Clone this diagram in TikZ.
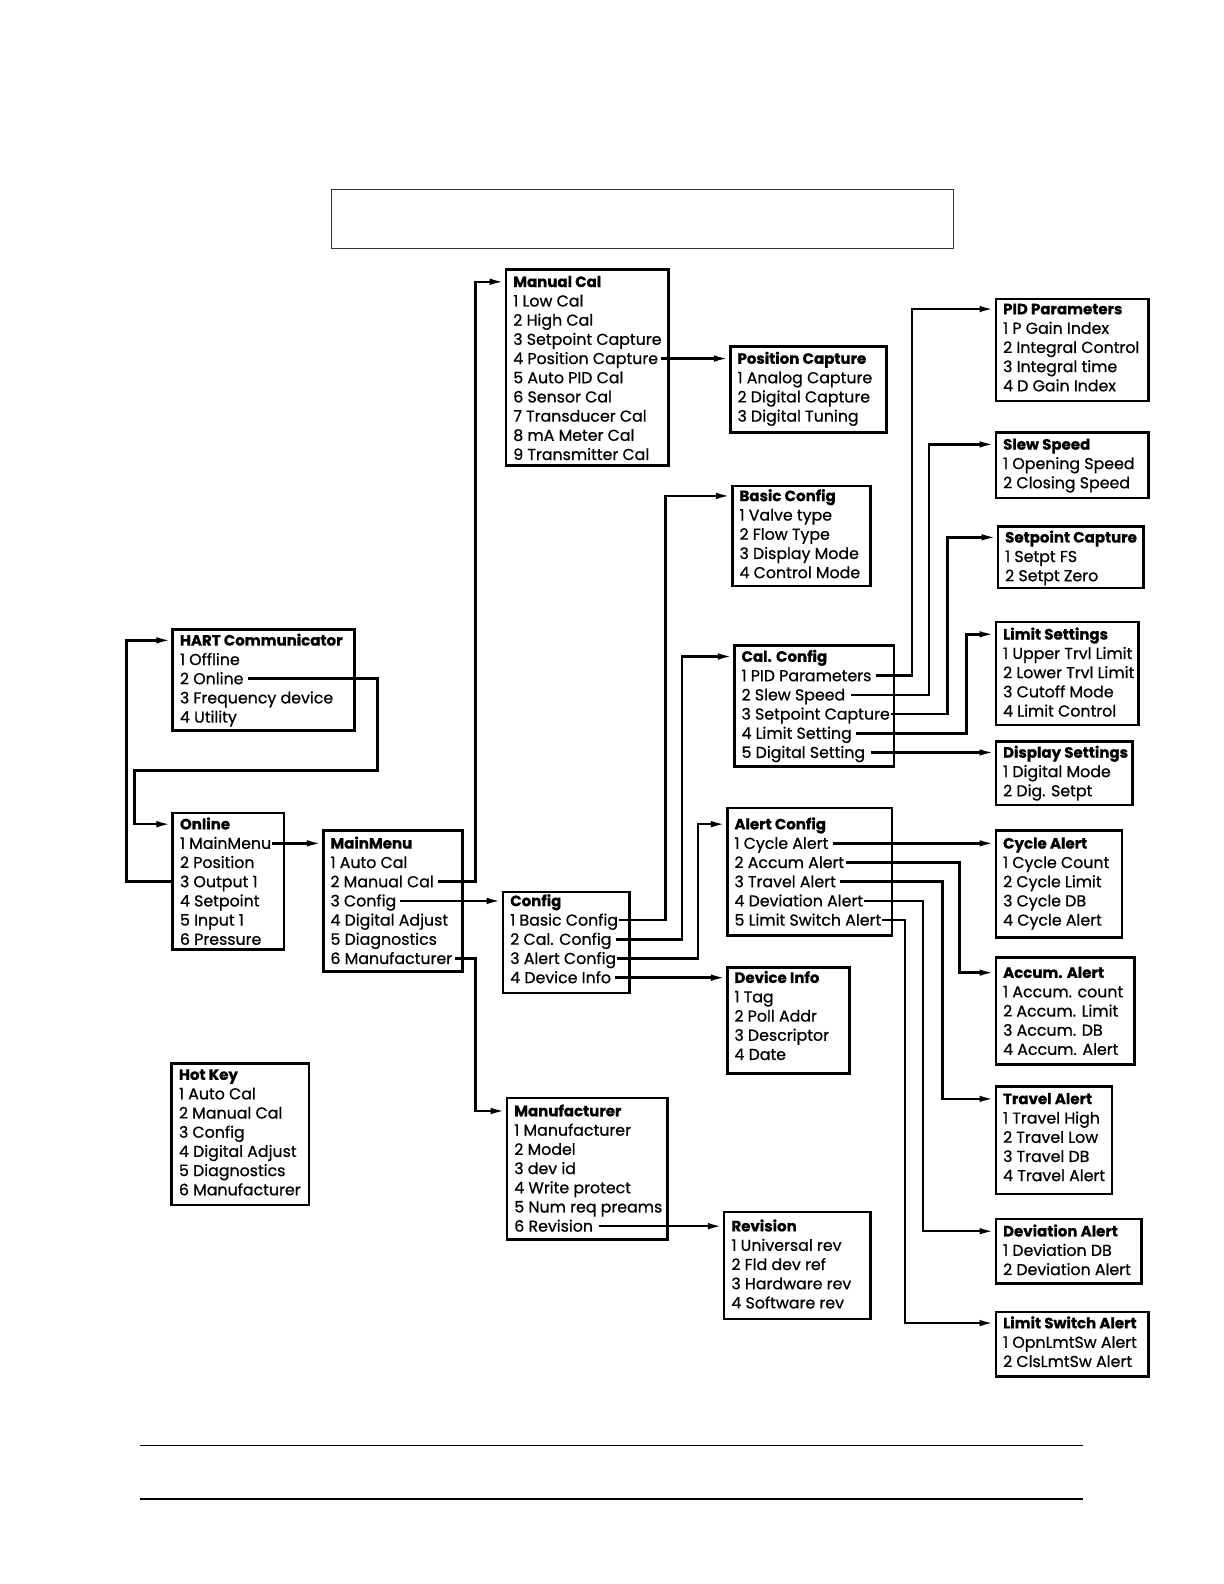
\documentclass[tikz,border=0pt]{standalone}
\usepackage{fontspec}
\setmainfont{Poppins}[BoldFeatures={FakeBold=0.8}]
\newfontfamily\itemfont{Poppins}[FakeBold=0.7]
\usetikzlibrary{arrows.meta,fit}
\tikzset{
  box/.style={draw,line width=2.6pt,inner sep=0pt},
  ttl/.style={anchor=west,inner sep=0pt,text height=10.5pt,text depth=0pt,font=\fontsize{15}{17}\selectfont\bfseries},
  itm/.style={anchor=west,inner sep=0pt,text height=11pt,text depth=0pt,font=\itemfont\fontsize{15.8}{18}\selectfont},
  conn/.style={line width=2.5pt,-{Latex[length=15pt,width=6.5pt]}},
}
\newcommand{\menu}[8]{%
  \node[box,fit={(#2,#3) (#4,#5)}] (#1) {};
  \node[ttl] (#1-t) at (#2+7,#6) {#7};
  \foreach \txt [count=\k] in {#8} {\node[itm] (#1-\k) at (#2+7,#6+19*\k) {\txt};}
}
\begin{document}
\begin{tikzpicture}[x=1.01pt,y=-1.01pt]
\useasboundingbox (0,0) rectangle (1211.88,1568.32);
\draw[line width=0.9pt,black!80] (328,188) rectangle (944,246);
\draw[line width=1.6pt] (139,1431) -- (1072,1431);
\draw[line width=1.6pt] (139,1484) -- (1072,1484);

\menu{hart}{171}{623}{351}{723}{634}{HART Communicator}{1 Offline,2 Online,3 Frequency device,4 Utility}
\menu{online}{171}{805}{281}{940}{816}{Online}{1 MainMenu,2 Position,3 Output 1,4 Setpoint,5 Input 1,6 Pressure}
\menu{main}{320}{822}{458}{962}{835}{MainMenu}{1 Auto Cal,2 Manual Cal,3 Config,4 Digital Adjust,5 Diagnostics,6 Manufacturer}
\menu{manual}{501}{267}{662}{461}{279}{Manual Cal}{1 Low Cal,2 High Cal,3 Setpoint Capture,4 Position Capture,5 Auto PID Cal,6 Sensor Cal,7 Transducer Cal,8 mA Meter Cal,9 Transmitter Cal}
\menu{poscap}{723}{343}{878}{428}{355}{Position Capture}{1 Analog Capture,2 Digital Capture,3 Digital Tuning}
\menu{basic}{725}{481}{862}{580}{491}{Basic Config}{1 Valve type,2 Flow Type,3 Display Mode,4 Control Mode}
\menu{cal}{727}{639}{885}{759}{650}{Cal. Config}{1 PID Parameters,2 Slew Speed,3 Setpoint Capture,4 Limit Setting,5 Digital Setting}
\menu{alert}{720}{800}{883}{926}{816}{Alert Config}{1 Cycle Alert,2 Accum Alert,3 Travel Alert,4 Deviation Alert,5 Limit Switch Alert}
\menu{config}{498}{883}{623}{983}{892}{Config}{1 Basic Config,2 Cal. Config,3 Alert Config,4 Device Info}
\menu{devinfo}{720}{958}{841}{1063}{968}{Device Info}{1 Tag,2 Poll Addr,3 Descriptor,4 Date}
\menu{manuf}{502}{1087}{661}{1227}{1100}{Manufacturer}{1 Manufacturer,2 Model,3 dev id,4 Write protect,5 Num req preams,6 Revision}
\menu{revision}{717}{1200}{862}{1306}{1214}{Revision}{1 Universal rev,2 Fld dev ref,3 Hardware rev,4 Software rev}
\menu{hotkey}{170}{1053}{306}{1193}{1064}{Hot Key}{1 Auto Cal,2 Manual Cal,3 Config,4 Digital Adjust,5 Diagnostics,6 Manufacturer}
\menu{pid}{986}{296}{1137}{397}{306}{PID Parameters}{1 P Gain Index,2 Integral Control,3 Integral time,4 D Gain Index}
\menu{slew}{986}{428}{1137}{493}{440}{Slew Speed}{1 Opening Speed,2 Closing Speed}
\menu{setcap}{988}{521}{1132}{582}{532}{Setpoint Capture}{1 Setpt FS,2 Setpt Zero}
\menu{limit}{986}{616}{1127}{718}{628}{Limit Settings}{1 Upper Trvl Limit,2 Lower Trvl Limit,3 Cutoff Mode,4 Limit Control}
\menu{display}{986}{734}{1121}{797}{745}{Display Settings}{1 Digital Mode,2 Dig. Setpt}
\menu{cycle}{986}{822}{1111}{928}{835}{Cycle Alert}{1 Cycle Count,2 Cycle Limit,3 Cycle DB,4 Cycle Alert}
\menu{accum}{986}{948}{1123}{1054}{963}{Accum. Alert}{1 Accum. count,2 Accum. Limit,3 Accum. DB,4 Accum. Alert}
\menu{travel}{986}{1076}{1101}{1182}{1088}{Travel Alert}{1 Travel High,2 Travel Low,3 Travel DB,4 Travel Alert}
\menu{deviation}{986}{1207}{1130}{1271}{1219}{Deviation Alert}{1 Deviation DB,2 Deviation Alert}
\menu{lsa}{986}{1299}{1137}{1363}{1310}{Limit Switch Alert}{1 OpnLmtSw Alert,2 ClsLmtSw Alert}

% connectors
\draw[conn] ([xshift=4pt]hart-2.east) -| (374,763) -- (133,763) |- (online.west |- online-t.west);
\draw[conn] (online.west |- online-3.west) -- (125,873) |- (hart.west |- hart-t.west);
\draw[conn] ([xshift=1pt]online-1.east) -- (main.west |- main-t.west);
\draw[conn] ([xshift=4pt]main-2.east) -| (471,279) -- (manual.west |- manual-t.west);
\draw[conn] ([xshift=4pt]main-3.east) -- (config.west |- config-t.west);
\draw[conn] ([xshift=3pt]main-6.east) -| (471,1100) -- (manuf.west |- manuf-t.west);
\draw[conn] ([xshift=3pt]manual-4.east) -- (poscap.west |- poscap-t.west);
\draw[conn] ([xshift=1pt]config-1.east) -| (659,491) -- (basic.west |- basic-t.west);
\draw[conn] ([xshift=4pt]config-2.east) -| (675,650) -- (cal.west |- cal-t.west);
\draw[conn] ([xshift=1pt]config-3.east) -| (691,816) -- (alert.west |- alert-t.west);
\draw[conn] ([xshift=4pt]config-4.east) -- (devinfo.west |- devinfo-t.west);
\draw[conn] ([xshift=6pt]manuf-6.east) -- (revision.west |- revision-t.west);
\draw[conn] ([xshift=4pt]cal-1.east) -| (903,306) -- (pid.west |- pid-t.west);
\draw[conn] ([xshift=6pt]cal-2.east) -| (920,440) -- (slew.west |- slew-t.west);
\draw[conn] ([xshift=1pt]cal-3.east) -| (938,532) -- (setcap.west |- setcap-t.west);
\draw[conn] ([xshift=4pt]cal-4.east) -| (957,628) -- (limit.west |- limit-t.west);
\draw[conn] ([xshift=6pt]cal-5.east) -- (display.west |- display-t.west);
\draw[conn] ([xshift=4pt]alert-1.east) -- (cycle.west |- cycle-t.west);
\draw[conn] ([xshift=2pt]alert-2.east) -| (950,963) -- (accum.west |- accum-t.west);
\draw[conn] ([xshift=4pt]alert-3.east) -| (933,1088) -- (travel.west |- travel-t.west);
\draw[conn] ([xshift=1pt]alert-4.east) -| (914,1219) -- (deviation.west |- deviation-t.west);
\draw[conn] ([xshift=1pt]alert-5.east) -| (896,1310) -- (lsa.west |- lsa-t.west);
\end{tikzpicture}
\end{document}
